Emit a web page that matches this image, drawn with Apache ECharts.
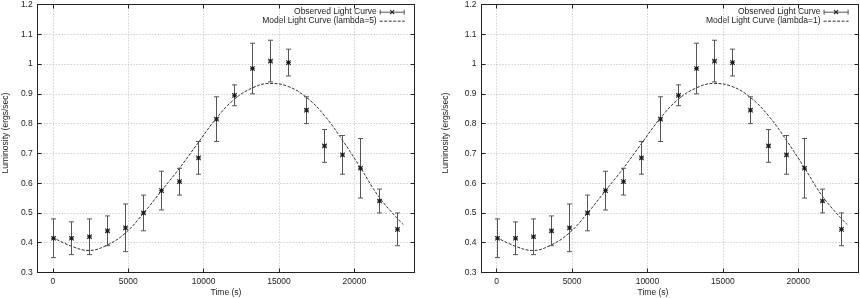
<!DOCTYPE html>
<html>
<head>
<meta charset="utf-8">
<script src="https://cdn.jsdelivr.net/npm/echarts@6/dist/echarts.min.js"></script>
<style>
html,body{margin:0;padding:0;background:#fff;}
#chart{width:860px;height:298px;}
</style>
</head>
<body>
<div id="chart"></div>
<script>
// ---- data ----
const timeS = [0,1200,2400,3600,4800,6000,7200,8400,9600,10800,12000,13200,14400,15600,16800,18000,19200,20400,21600,22800];
const observed = [0.415,0.415,0.42,0.44,0.45,0.50,0.575,0.605,0.685,0.815,0.895,0.985,1.01,1.005,0.845,0.725,0.695,0.65,0.54,0.445];
const obsLow  = [0.35,0.36,0.36,0.39,0.37,0.44,0.51,0.56,0.63,0.74,0.86,0.90,0.94,0.96,0.80,0.67,0.63,0.55,0.50,0.39];
const obsHigh = [0.48,0.47,0.48,0.49,0.53,0.56,0.64,0.65,0.74,0.89,0.93,1.07,1.08,1.05,0.89,0.78,0.76,0.75,0.58,0.50];
const modelTime = [0,1200,2400,3600,4800,6000,7200,8400,9600,10800,12000,13200,14400,15600,16800,18000,19200,20400,21600,22800,23250];
const modelLambda5 = [0.418,0.389,0.374,0.392,0.432,0.498,0.574,0.650,0.733,0.815,0.880,0.919,0.935,0.925,0.889,0.828,0.745,0.652,0.556,0.484,0.461];
const modelLambda1 = [0.418,0.389,0.374,0.392,0.432,0.498,0.574,0.650,0.733,0.815,0.880,0.919,0.935,0.925,0.889,0.828,0.745,0.652,0.556,0.484,0.461];
const xTickValues = [0,5000,10000,15000,20000];
const panels = [
  {obsName:'Observed Light Curve', modelName:'Model Light Curve (lambda=5)', model: modelLambda5},
  {obsName:'Observed Light Curve', modelName:'Model Light Curve (lambda=1)', model: modelLambda1}
];
const xTitle = 'Time (s)';
const yTitle = 'Luminosity (ergs/sec)';

// ---- layout ----
const FONT = 'Liberation Sans, Arial, sans-serif';
const FS = 8.5;
const TXT = '#222';
const grids = [
  {left:37.7, top:3, width:377, height:269.5},
  {left:481.6, top:3, width:377, height:269.5}
];

const chart = echarts.init(document.getElementById('chart'), null, {renderer:'canvas'});

const xAxes = [], yAxes = [], series = [], graphics = [];
grids.forEach((g, i) => {
  const common = {
    gridIndex:i, type:'value', min:-1000, max:24000, splitNumber:5
  };
  xAxes.push(Object.assign({}, common, {
    position:'bottom',
    axisLine:{show:true, onZero:false, lineStyle:{color:'#222', width:1}},
    axisTick:{show:true, inside:true, length:4, lineStyle:{color:'#222'}},
    axisLabel:{color:TXT, fontFamily:FONT, fontSize:FS, margin:5,
      showMinLabel:false, showMaxLabel:false,
      formatter: v => xTickValues.includes(v) ? String(v) : ''},
    splitLine:{show:true, lineStyle:{color:'#bbb', type:[1,2], width:1}}
  }));
  xAxes.push(Object.assign({}, common, {
    position:'top',
    axisLine:{show:true, onZero:false, lineStyle:{color:'#222', width:1}},
    axisTick:{show:true, inside:true, length:4, lineStyle:{color:'#222'}},
    axisLabel:{show:false},
    splitLine:{show:false}
  }));
  const ycommon = {gridIndex:i, type:'value', min:0.3, max:1.2, interval:0.1};
  yAxes.push(Object.assign({}, ycommon, {
    position:'left',
    axisLine:{show:true, onZero:false, lineStyle:{color:'#222', width:1}},
    axisTick:{show:true, inside:true, length:4, lineStyle:{color:'#222'}},
    axisLabel:{color:TXT, fontFamily:FONT, fontSize:FS, margin:5,
      formatter: v => String(Math.round(v*10)/10)},
    splitLine:{show:true, lineStyle:{color:'#bbb', type:[1,2], width:1}}
  }));
  yAxes.push(Object.assign({}, ycommon, {
    position:'right',
    axisLine:{show:true, onZero:false, lineStyle:{color:'#222', width:1}},
    axisTick:{show:true, inside:true, length:4, lineStyle:{color:'#222'}},
    axisLabel:{show:false},
    splitLine:{show:false}
  }));

  const xi = i*2, yi = i*2;
  // model curve
  series.push({
    type:'line', xAxisIndex:xi, yAxisIndex:yi, name:panels[i].modelName,
    data: modelTime.map((t,k)=>[t, panels[i].model[k]]),
    smooth:0.4, showSymbol:false, symbol:'none',
    lineStyle:{color:'#333', width:1, type:[3,1.5]},
    z:3, silent:true
  });
  // observed with error bars
  series.push({
    type:'custom', xAxisIndex:xi, yAxisIndex:yi, name:panels[i].obsName,
    data: timeS.map((t,k)=>[t, observed[k], obsLow[k], obsHigh[k]]),
    encode:{x:0, y:[1,2,3]},
    z:4, silent:true,
    renderItem:(params, api) => {
      const x = api.value(0);
      const p = api.coord([x, api.value(1)]);
      const lo = api.coord([x, api.value(2)]);
      const hi = api.coord([x, api.value(3)]);
      const cx = Math.round(p[0]) + 0.5;
      const bar = {stroke:'#555', lineWidth:1};
      const mk = {stroke:'#1a1a1a', lineWidth:1.1};
      const c = 2.5, m = 2.2;
      return {type:'group', children:[
        {type:'line', shape:{x1:cx, y1:lo[1], x2:cx, y2:hi[1]}, style:bar},
        {type:'line', shape:{x1:cx-c, y1:lo[1], x2:cx+c, y2:lo[1]}, style:bar},
        {type:'line', shape:{x1:cx-c, y1:hi[1], x2:cx+c, y2:hi[1]}, style:bar},
        {type:'line', shape:{x1:cx-m, y1:p[1]-m, x2:cx+m, y2:p[1]+m}, style:mk},
        {type:'line', shape:{x1:cx-m, y1:p[1]+m, x2:cx+m, y2:p[1]-m}, style:mk},
        {type:'line', shape:{x1:cx-m, y1:p[1], x2:cx+m, y2:p[1]}, style:mk},
        {type:'line', shape:{x1:cx, y1:p[1]-m, x2:cx, y2:p[1]+m}, style:mk}
      ]};
    }
  });

  // legend (gnuplot style: text then sample)
  const right = g.left + g.width;
  const sx2 = right - 10, sx1 = right - 35, tx = right - 38;
  const y1 = 11.7, y2 = 20.7;
  graphics.push(
    {type:'text', x:tx, y:y1, style:{text:panels[i].obsName, fill:TXT, font:FS+'px '+FONT, textAlign:'right', textVerticalAlign:'middle'}},
    {type:'text', x:tx, y:y2, style:{text:panels[i].modelName, fill:TXT, font:FS+'px '+FONT, textAlign:'right', textVerticalAlign:'middle'}},
    {type:'line', shape:{x1:sx1, y1:y1+0.5, x2:sx2, y2:y1+0.5}, style:{stroke:'#555', lineWidth:1}},
    {type:'line', shape:{x1:sx1+0.5, y1:y1-2, x2:sx1+0.5, y2:y1+3}, style:{stroke:'#555', lineWidth:1}},
    {type:'line', shape:{x1:sx2-0.5, y1:y1-2, x2:sx2-0.5, y2:y1+3}, style:{stroke:'#555', lineWidth:1}},
    {type:'line', shape:{x1:(sx1+sx2)/2-2, y1:y1-1.5, x2:(sx1+sx2)/2+2, y2:y1+2.5}, style:{stroke:'#1a1a1a', lineWidth:1.1}},
    {type:'line', shape:{x1:(sx1+sx2)/2-2, y1:y1+2.5, x2:(sx1+sx2)/2+2, y2:y1-1.5}, style:{stroke:'#1a1a1a', lineWidth:1.1}},
    {type:'line', shape:{x1:sx1, y1:y2+0.5, x2:sx2, y2:y2+0.5}, style:{stroke:'#333', lineWidth:1, lineDash:[3,1.5]}}
  );
});

// axis titles
graphics.push(
  {type:'text', x:226, y:293, style:{text:xTitle, fill:TXT, font:FS+'px '+FONT, textAlign:'center', textVerticalAlign:'middle'}},
  {type:'text', x:653, y:293, style:{text:xTitle, fill:TXT, font:FS+'px '+FONT, textAlign:'center', textVerticalAlign:'middle'}},
  {type:'text', x:5.5, y:133, rotation:Math.PI/2, style:{text:yTitle, fill:TXT, font:FS+'px '+FONT, textAlign:'center', textVerticalAlign:'middle'}},
  {type:'text', x:446, y:133, rotation:Math.PI/2, style:{text:yTitle, fill:TXT, font:FS+'px '+FONT, textAlign:'center', textVerticalAlign:'middle'}}
);

chart.setOption({
  animation:false,
  backgroundColor:'#fff',
  grid: grids,
  xAxis: xAxes,
  yAxis: yAxes,
  series: series,
  graphic: graphics
});
</script>
</body>
</html>
